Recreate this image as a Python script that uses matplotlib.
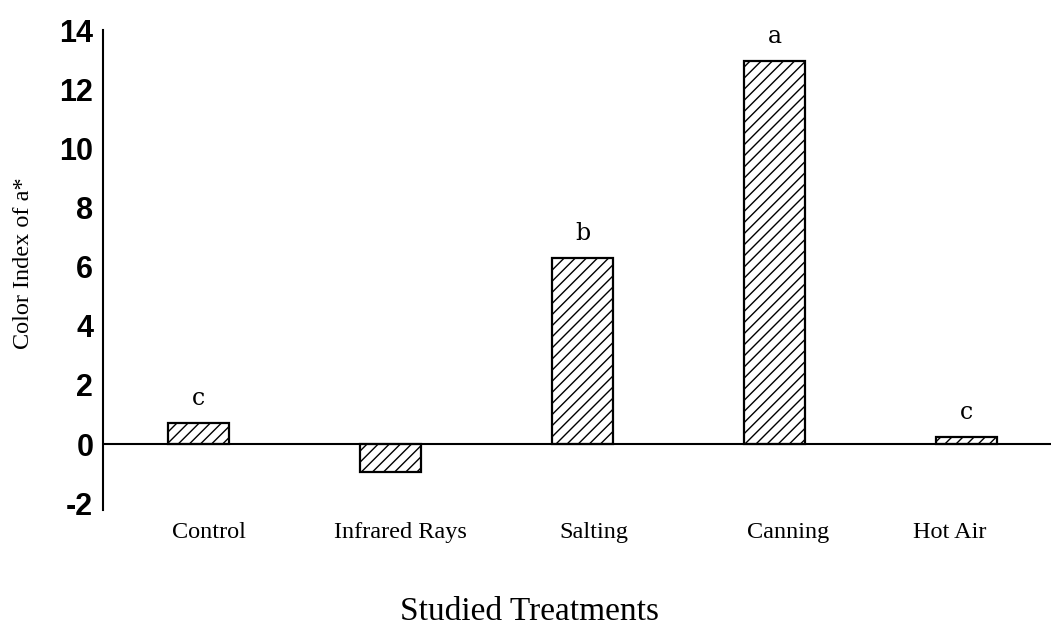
import matplotlib
matplotlib.use("Agg")
import matplotlib.pyplot as plt
from matplotlib.transforms import blended_transform_factory

categories = ["Control", "Infrared Rays", "Salting", "Canning", "Hot Air"]
values = [0.72, -0.95, 6.3, 12.95, 0.24]
letters = ["c", "", "b", "a", "c"]
yticks = [-2, 0, 2, 4, 6, 8, 10, 12, 14]

# style: small horizontal offsets of category labels relative to bars
label_shift = [0.055, 0.05, 0.06, 0.07, -0.09]

plt.rcParams['hatch.linewidth'] = 1.0
fig = plt.figure(figsize=(10.51, 6.27), dpi=100)
ax = fig.add_axes([103/1051, 1-510/627, 1-103/1051, 480/627])

x = list(range(len(categories)))
ax.bar(x, values, width=0.318, color="white", edgecolor="black",
       hatch="///", linewidth=1.6, zorder=2)
ax.axhline(0, color="black", linewidth=1.5, zorder=3)

for xi, v, l in zip(x, values, letters):
    if l:
        ax.annotate(l, (xi, max(v, 0)), xytext=(0, 13), textcoords="offset points",
                    ha="center", va="baseline", fontsize=17, family="DejaVu Serif")

ax.set_xlim(-0.497, 4.44)
ax.set_ylim(-2.23, 14)
ax.set_yticks(yticks)
ax.set_yticklabels([str(t) for t in yticks], fontsize=22, fontweight="bold",
                   family="Liberation Sans")
ax.tick_params(axis="y", length=0, pad=7)
ax.set_xticks([])

trans = blended_transform_factory(ax.transData, fig.transFigure)
for xi, c, s in zip(x, categories, label_shift):
    ax.text(xi + s, 1 - 538/627, c, transform=trans, ha="center", va="baseline",
            fontsize=17.5, family="Liberation Serif")

for s in ["top", "right", "bottom"]:
    ax.spines[s].set_visible(False)
ax.spines["left"].set_linewidth(1.5)

fig.text(24/1051, 1-263/627, "Color Index of a*", rotation=90, fontsize=17.5,
         family="Liberation Serif", ha="center", va="center")
fig.text(529/1051, 1 - 620/627, "Studied Treatments", fontsize=24,
         family="Liberation Serif", ha="center", va="baseline")

fig.savefig("out.png", dpi=100)
